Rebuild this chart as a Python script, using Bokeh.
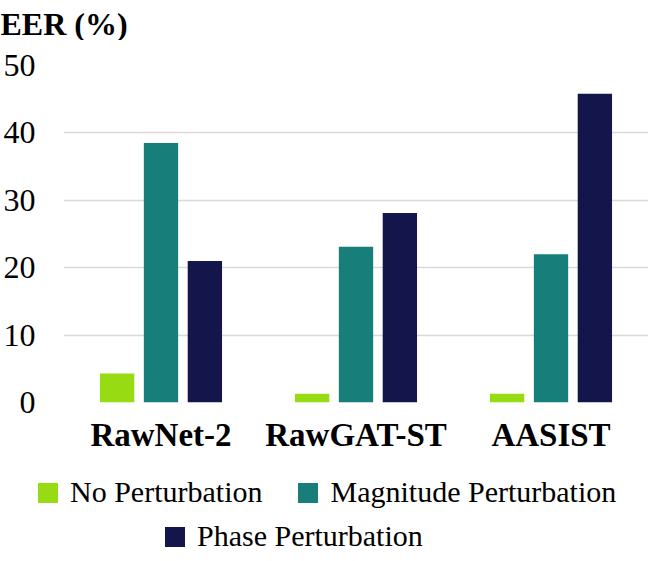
from bokeh.plotting import figure
from bokeh.models import (ColumnDataSource, FactorRange, Range1d, Legend, LegendItem,
                          FixedTicker, Label)
from bokeh.layouts import column, row
from bokeh.transform import dodge
from bokeh.embed import file_html
from bokeh.resources import INLINE

models = ["RawNet-2", "RawGAT-ST", "AASIST"]
no_pert = [4.3, 1.3, 1.3]
mag_pert = [38.5, 23.1, 22.0]
phase_pert = [21.0, 28.1, 45.8]
series_names = ["No Perturbation", "Magnitude Perturbation", "Phase Perturbation"]
colors = ["#97DB13", "#177E7A", "#14154A"]
y_ticks = [0, 10, 20, 30, 40, 50]
title_text = "EER (%)"

FONT = "Liberation Serif"
W = 648
bw = 0.176
step = 0.225
offsets = [-step, 0, step]
cols = ["no", "mag", "phase"]

src = ColumnDataSource(dict(model=models, no=no_pert, mag=mag_pert, phase=phase_pert))
x_range = FactorRange(*models)

def bare_figure(h, xr, yr):
    f = figure(width=W, height=h, x_range=xr, y_range=yr,
               x_axis_location=None, y_axis_location=None,
               output_backend="svg", toolbar_location=None,
               min_border_left=0, min_border_right=0, min_border_top=0, min_border_bottom=0)
    f.grid.visible = False
    f.outline_line_color = None
    return f

# ---- title strip ----
tf = bare_figure(40, Range1d(0, 1), Range1d(0, 1))
tf.add_layout(Label(x=0, y=17, x_units="screen", y_units="screen", text=title_text,
                    text_font=FONT, text_font_size="32px", text_font_style="bold",
                    text_color="black", text_align="left", text_baseline="alphabetic"))

# ---- main chart ----
p = figure(width=W, height=415, x_range=x_range, y_range=Range1d(0, 50),
           output_backend="svg", toolbar_location=None,
           min_border_left=0, min_border_right=0, min_border_top=25, min_border_bottom=53)
p.outline_line_color = None

for col, off, c in zip(cols, offsets, colors):
    p.vbar(x=dodge("model", off, range=x_range), top=col, width=bw, source=src,
           color=c, line_color=None)

p.xgrid.grid_line_color = None
p.ygrid.grid_line_color = "#d9d9d9"
p.ygrid.grid_line_width = 1.5
p.ygrid.ticker = FixedTicker(ticks=y_ticks)

p.yaxis.ticker = FixedTicker(ticks=y_ticks)
p.yaxis.axis_line_color = None
p.yaxis.major_tick_line_color = None
p.yaxis.minor_tick_line_color = None
p.yaxis.major_label_text_font = FONT
p.yaxis.major_label_text_font_size = "32px"
p.yaxis.major_label_text_color = "black"
p.yaxis.major_label_standoff = 22

p.xaxis.axis_line_color = None
p.xaxis.major_tick_line_color = None
p.xaxis.minor_tick_line_color = None
p.xaxis.major_label_text_font = FONT
p.xaxis.major_label_text_font_size = "33px"
p.xaxis.major_label_text_font_style = "bold"
p.xaxis.major_label_text_color = "black"
p.xaxis.major_label_standoff = 8

# ---- legend strip (swatches bound to the same series; bars fall outside its view) ----
lf = bare_figure(98, FactorRange(*models), Range1d(1000, 1001))
lr = [lf.vbar(x="model", top=col, width=bw, source=src, color=c, line_color=None)
      for col, c in zip(cols, colors)]

def make_legend(items, loc):
    return Legend(items=items, orientation="horizontal", location=loc,
                  glyph_width=25, glyph_height=25, label_standoff=10, spacing=33,
                  padding=0, margin=0, border_line_color=None, background_fill_alpha=0,
                  label_text_font=FONT, label_text_font_size="30px",
                  label_text_color="black")

lf.add_layout(make_legend([LegendItem(label=series_names[0], renderers=[lr[0]]),
                           LegendItem(label=series_names[1], renderers=[lr[1]])], (35, 44)))
lf.add_layout(make_legend([LegendItem(label=series_names[2], renderers=[lr[2]])], (162, 0)))

layout = column(row(tf), p, row(lf), spacing=0)
open("out.html", "w").write(file_html(layout, INLINE))
